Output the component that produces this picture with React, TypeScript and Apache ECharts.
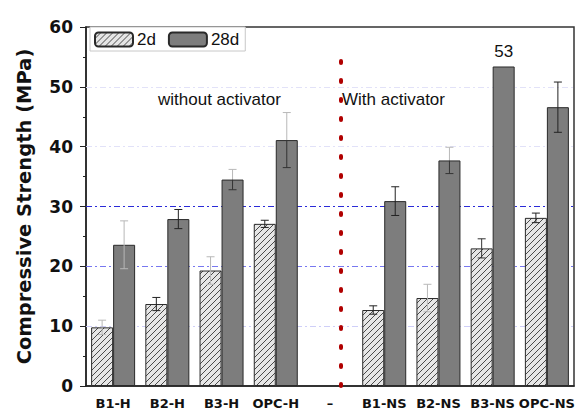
import React, { useEffect, useRef } from "react";
import * as echarts from "echarts";

const categories = ["B1-H", "B2-H", "B3-H", "OPC-H", "–", "B1-NS", "B2-NS", "B3-NS", "OPC-NS"];
const values2d = [9.8, 13.7, 19.3, 27.1, null, 12.7, 14.7, 23.0, 28.1];
const errors2d = [1.2, 1.1, 2.3, 0.6, null, 0.7, 2.3, 1.6, 0.8];
const values28d = [23.6, 27.9, 34.5, 41.1, null, 30.9, 37.7, 53.4, 46.6];
const errors28d = [4.0, 1.6, 1.7, 4.6, null, 2.4, 2.2, null, 4.2];
const yTicks = { min: 0, max: 60, interval: 10 };
const label53 = "53";

// error bar tones per point: [upper, lower]
const DARK = "#222";
const LIGHT = "#b8b8b8";
const MID = "#333";
const errTone2d = [
  [LIGHT, LIGHT], [DARK, DARK], [LIGHT, LIGHT], [DARK, DARK], null,
  [DARK, DARK], [LIGHT, LIGHT], [MID, MID], [DARK, DARK],
];
const errTone28d = [
  [LIGHT, LIGHT], [DARK, DARK], [LIGHT, MID], [LIGHT, MID], null,
  [DARK, DARK], [LIGHT, MID], null, [DARK, DARK],
];

const BAR_W = 22;
const CAP = 4;

function makeHatch(): HTMLCanvasElement {
  const c = document.createElement("canvas");
  c.width = 6;
  c.height = 6;
  const g = c.getContext("2d")!;
  g.fillStyle = "#e6e6e6";
  g.fillRect(0, 0, 6, 6);
  g.strokeStyle = "#4a4a4a";
  g.lineWidth = 1;
  g.beginPath();
  g.moveTo(0, 6); g.lineTo(6, 0);
  g.moveTo(-3, 3); g.lineTo(3, -3);
  g.moveTo(3, 9); g.lineTo(9, 3);
  g.stroke();
  return c;
}

function errSeries(name: string, vals: (number | null)[], errs: (number | null)[], tones: any[], offset: number) {
  const data: number[][] = [];
  vals.forEach((v, i) => {
    if (v != null && errs[i] != null) data.push([i, v, errs[i] as number]);
  });
  return {
    type: "custom",
    name,
    z: 3,
    silent: true,
    data,
    renderItem: (params: any, api: any) => {
      const i = api.value(0);
      const v = api.value(1);
      const e = api.value(2);
      const mid = api.coord([i, v]);
      const top = api.coord([i, v + e]);
      const bot = api.coord([i, v - e]);
      const x = mid[0] + offset;
      const tone = tones[i] || [DARK, DARK];
      const up = { stroke: tone[0], lineWidth: 1 };
      const lo = { stroke: tone[1], lineWidth: 1 };
      return {
        type: "group",
        children: [
          { type: "line", shape: { x1: x, y1: mid[1], x2: x, y2: top[1] }, style: up },
          { type: "line", shape: { x1: x - CAP, y1: top[1], x2: x + CAP, y2: top[1] }, style: up },
          { type: "line", shape: { x1: x, y1: mid[1], x2: x, y2: bot[1] }, style: lo },
          { type: "line", shape: { x1: x - CAP, y1: bot[1], x2: x + CAP, y2: bot[1] }, style: lo },
        ],
      };
    },
  };
}

export default function App() {
  const ref = useRef<HTMLDivElement>(null);
  useEffect(() => {
    if (!ref.current) return;
    const chart = echarts.init(ref.current, null, { renderer: "svg" });
    const hatch = { image: makeHatch(), repeat: "repeat" };
    const boldFont = "DejaVu Sans";
    const textFont = "Liberation Sans";
    const gridLine = (y: number, color: string) => ({
      yAxis: y,
      lineStyle: { color, width: 1, type: [6, 3, 2, 3] },
    });
    const data28 = values28d.map((v, i) =>
      i === 7
        ? { value: v, label: { show: true, position: "top", distance: 6, formatter: label53, fontFamily: textFont, fontSize: 17, color: "#111" } }
        : v
    );
    chart.setOption({
      animation: false,
      backgroundColor: "#fff",
      grid: {
        left: 86, right: 4, top: 27, bottom: 22,
        show: true, borderColor: "#333", borderWidth: 1.5, backgroundColor: "transparent",
      },
      legend: {
        left: 90, top: 27,
        padding: [4, 6, 3, 4],
        itemWidth: 38, itemHeight: 14, itemGap: 12,
        backgroundColor: "#fff", borderColor: "#c8c8c8", borderWidth: 1,
        textStyle: { fontFamily: textFont, fontSize: 17, color: "#111", padding: [0, 0, 0, -1] },
        data: ["2d", "28d"],
        selectedMode: false,
      },
      xAxis: [
        {
          type: "category",
          data: categories,
          axisLine: { lineStyle: { color: "#222", width: 1.5 } },
          axisTick: { alignWithLabel: false, length: 5, interval: 0, lineStyle: { color: "#222" } },
          axisLabel: { interval: 0, margin: 11, fontFamily: boldFont, fontWeight: "bold", fontSize: 13, color: "#111" },
        },
        {
          type: "category",
          data: categories,
          position: "bottom",
          axisLine: { show: false },
          axisTick: { alignWithLabel: true, length: 4, interval: 0, lineStyle: { color: "#222" } },
          axisLabel: { show: false },
        },
      ],
      yAxis: {
        type: "value",
        min: yTicks.min, max: yTicks.max, interval: yTicks.interval,
        name: "Compressive Strength (MPa)",
        nameLocation: "middle",
        nameGap: 52,
        nameTextStyle: { fontFamily: boldFont, fontWeight: "bold", fontSize: 19.5, color: "#111" },
        axisLine: { show: true, lineStyle: { color: "#222", width: 1.5 } },
        axisTick: { show: true, inside: false, length: 6, lineStyle: { color: "#222" } },
        minorTick: { show: true, splitNumber: 2, length: 3, lineStyle: { color: "#222" } },
        splitLine: { show: false },
        axisLabel: { margin: 13, fontFamily: boldFont, fontWeight: "bold", fontSize: 17, color: "#111" },
      },
      series: [
        {
          type: "bar",
          name: "2d",
          data: values2d,
          barWidth: BAR_W,
          barGap: "0%",
          itemStyle: { color: hatch, borderColor: "#2a2a2a", borderWidth: 1 },
          markLine: {
            z: 1,
            silent: true,
            symbol: "none",
            label: { show: false },
            data: [
              gridLine(10, "#cfcff8"),
              gridLine(20, "#7878f0"),
              gridLine(30, "#2a2ad8"),
              gridLine(40, "#e2e2f8"),
              gridLine(50, "#e2e2f8"),
            ],
          },
        },
        {
          type: "bar",
          name: "28d",
          data: data28,
          barWidth: BAR_W,
          barGap: "0%",
          itemStyle: { color: "#7d7d7d", borderColor: "#2a2a2a", borderWidth: 1 },
          markLine: {
            silent: true,
            symbol: "none",
            label: { show: false },
            lineStyle: { color: "#b00000", width: 4, type: [2, 17], cap: "round" },
            data: [[{ coord: ["–", 0] }, { coord: ["–", 57] }]],
          },
        },
        errSeries("e2d", values2d, errors2d, errTone2d, -BAR_W / 2),
        errSeries("e28d", values28d, errors28d, errTone28d, BAR_W / 2),
      ],
      graphic: [
        {
          type: "text", left: 158, top: 91, silent: true,
          style: { text: "without activator", font: `17px "${textFont}"`, fill: "#111" },
        },
        {
          type: "text", left: 342, top: 91, silent: true,
          style: { text: "With activator", font: `17px "${textFont}"`, fill: "#111" },
        },
      ],
    });
    return () => chart.dispose();
  }, []);
  return <div ref={ref} style={{ position: "fixed", left: 0, top: 0, width: 578, height: 410 }} />;
}
